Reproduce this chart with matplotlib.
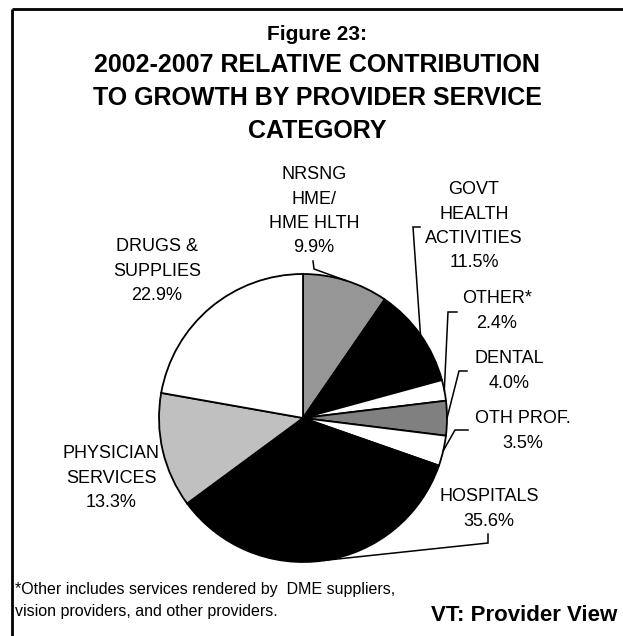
import numpy as np
import matplotlib
matplotlib.use("Agg")
import matplotlib.pyplot as plt
from matplotlib.lines import Line2D

W, H = 623, 636
DPI = 100

# growth shares by provider service category, clockwise from 12 o'clock
categories = ["NRSNG\nHME/\nHME HLTH", "GOVT\nHEALTH\nACTIVITIES", "OTHER*", "DENTAL",
              "OTH PROF.", "HOSPITALS", "PHYSICIAN\nSERVICES", "DRUGS &\nSUPPLIES"]
shares = [9.9, 11.5, 2.4, 4.0, 3.5, 35.6, 13.3, 22.9]
fills = ["#969696", "#000000", "#ffffff", "#808080",
         "#ffffff", "#000000", "#c0c0c0", "#ffffff"]

title_lines = ["2002-2007 RELATIVE CONTRIBUTION", "TO GROWTH BY PROVIDER SERVICE", "CATEGORY"]
footnote = ["*Other includes services rendered by  DME suppliers,",
            "vision providers, and other providers."]

# layout in pixels from the top-left corner
label_pos = [(314, 173), (474, 188), (497, 297), (509, 357),
             (523, 417), (489, 495), (111, 452), (157, 245)]
leader_elbows = {0: [(313, 261), (314, 269)],
                 1: [(420, 227), (413, 227)],
                 2: [(457, 312), (448, 312)],
                 3: [(467, 371), (459, 371)],
                 4: [(468, 430), (455, 430)],
                 5: [(488, 534), (488, 543)]}


def put_lines(ax, x, y_first, lines, size, step, weight="normal", ha="center"):
    """Write lines of text, y_first being the cap-centre of the first line in pixels."""
    cap = 0.716 * size * DPI / 72
    for i, s in enumerate(lines):
        ax.text(x, H - (y_first + i * step + cap / 2), s, fontsize=size,
                fontweight=weight, ha=ha, va="baseline", color="black")


fig = plt.figure(figsize=(W / DPI, H / DPI), dpi=DPI)
fig.patch.set_facecolor("white")
ax = fig.add_axes([0, 0, 1, 1])
plt.rcParams["font.family"] = ["Liberation Sans", "DejaVu Sans"]

wedges, _ = ax.pie(shares, colors=fills, startangle=90, counterclock=False,
                   center=(303, H - 418), radius=144,
                   wedgeprops=dict(edgecolor="black", linewidth=1.3))
ax.set_xlim(0, W)
ax.set_ylim(0, H)
ax.set_aspect("equal")
ax.axis("off")

# category labels with their percentages
for i, (name, v) in enumerate(zip(categories, shares)):
    x, y = label_pos[i]
    put_lines(ax, x, y, name.split("\n") + [f"{v:.1f}%"], 13, 24.3)

# leader lines run to the middle of each wedge's rim
for i, pts in leader_elbows.items():
    w = wedges[i]
    mid = np.deg2rad((w.theta1 + w.theta2) / 2)
    cx, cy = w.center
    xs = [p[0] for p in pts] + [cx + w.r * np.cos(mid)]
    ys = [H - p[1] for p in pts] + [cy + w.r * np.sin(mid)]
    ax.plot(xs, ys, color="black", lw=1.1, solid_joinstyle="miter")

# titles
put_lines(ax, 317, 33, ["Figure 23:"], 15, 0, weight="bold")
put_lines(ax, 317, 63, title_lines, 18, 33, weight="bold")

put_lines(ax, 15, 588, footnote, 11.5, 22, ha="left")
put_lines(ax, 617, 613, ["VT: Provider View"], 16, 0, weight="bold", ha="right")

# frame (top and left edges only)
ax.add_line(Line2D([12, W + 5], [H - 9, H - 9], color="black", lw=2, solid_capstyle="butt"))
ax.add_line(Line2D([12, 12], [H - 9, -5], color="black", lw=2, solid_capstyle="butt"))

fig.savefig("out.png", dpi=DPI, facecolor="white")
